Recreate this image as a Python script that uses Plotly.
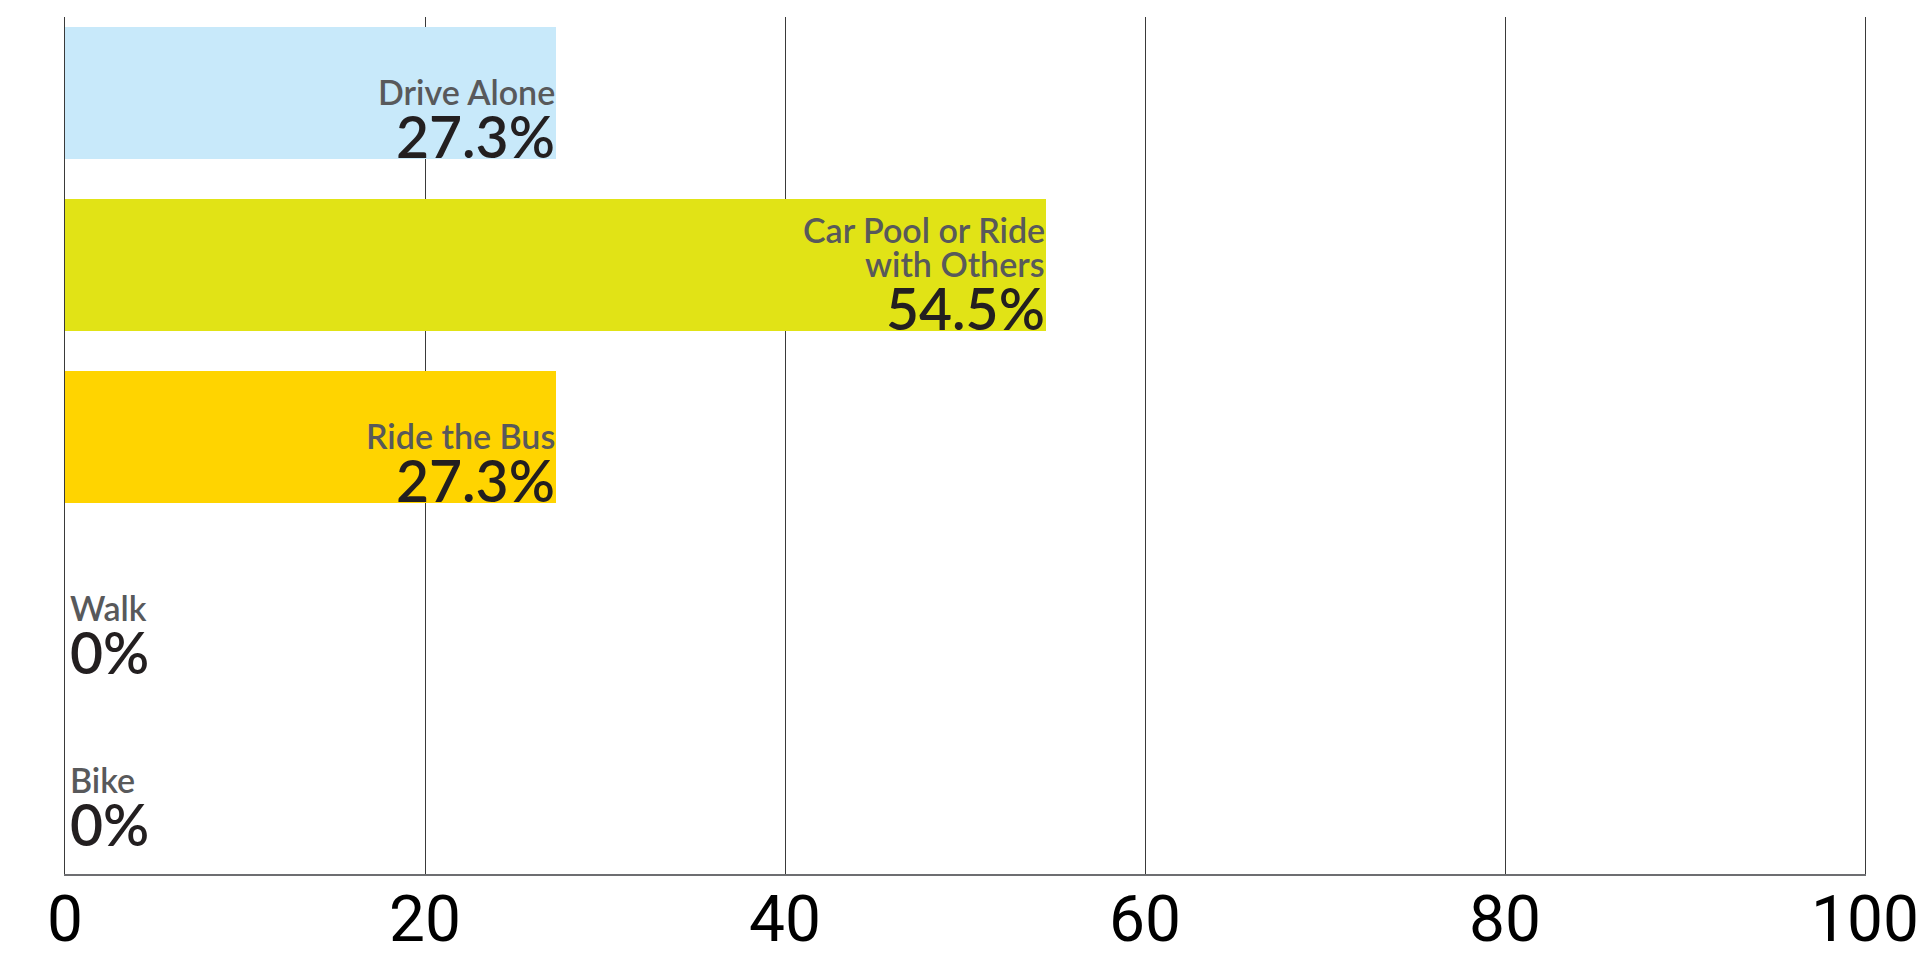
import plotly.graph_objects as go

categories = ["Drive Alone", "Car Pool or Ride with Others", "Ride the Bus", "Walk", "Bike"]
label_lines = [["Drive Alone"], ["Car Pool or Ride", "with Others"], ["Ride the Bus"], ["Walk"], ["Bike"]]
values = [27.3, 54.5, 27.3, 0, 0]
value_text = ["27.3%", "54.5%", "27.3%", "0%", "0%"]
bar_colors = ["#c8e9fa", "#e1e316", "#ffd400", "#ffd400", "#ffd400"]
x_ticks = [0, 20, 40, 60, 80, 100]

FONT = "Lato"
LABEL_COLOR = "#58595b"
VALUE_COLOR = "#231f20"
GRID = "#3a3a3a"
BAR_W = 0.767

positions = list(range(len(categories)))

fig = go.Figure()
fig.add_trace(go.Bar(
    x=values, y=positions, orientation="h", width=BAR_W,
    marker=dict(color=bar_colors, line=dict(width=0)),
    hoverinfo="skip", showlegend=False,
))

annotations = []
for i, (lines, v, vt) in enumerate(zip(label_lines, values, value_text)):
    bottom = i + BAR_W / 2
    if v > 0:
        ax, anchor, xs = v, "right", 0
    else:
        ax, anchor, xs = 0, "left", 4
    annotations.append(dict(
        x=ax, y=bottom, xref="x", yref="y", text=vt, showarrow=False,
        xanchor=anchor, yanchor="bottom", xshift=xs, yshift=-12, borderpad=0,
        font=dict(family=FONT, size=57, color=VALUE_COLOR, weight=600),
    ))
    for k, line in enumerate(reversed(lines)):
        annotations.append(dict(
            x=ax, y=bottom, xref="x", yref="y", text=line, showarrow=False,
            xanchor=anchor, yanchor="bottom", xshift=xs, yshift=46 + 34 * k, borderpad=0,
            font=dict(family=FONT, size=34, color=LABEL_COLOR, weight=600),
        ))

# page body has an 8px margin; figure sized so the page totals 1924x959
fig.update_layout(
    width=1908, height=943,
    margin=dict(l=57, r=51, t=9, b=77, autoexpand=False),
    paper_bgcolor="white", plot_bgcolor="white",
    bargap=0,
    annotations=annotations,
    xaxis=dict(
        range=[0, 100], tickvals=x_ticks, ticktext=[str(t) for t in x_ticks],
        showgrid=True, gridcolor=GRID, gridwidth=1,
        zeroline=False, showline=True, linecolor="#6d6e71", linewidth=2,
        ticks="", ticklabelstandoff=-12, ticklabeloverflow="allow", automargin=False,
        tickfont=dict(family="Roboto", size=64, color="#000000"),
        fixedrange=True,
    ),
    yaxis=dict(
        range=[4.54, -0.44], showgrid=False, zeroline=False, showticklabels=False,
        showline=True, mirror=True, linecolor=GRID, linewidth=1,
        automargin=False, fixedrange=True,
    ),
)

fig.write_html("out.html")
